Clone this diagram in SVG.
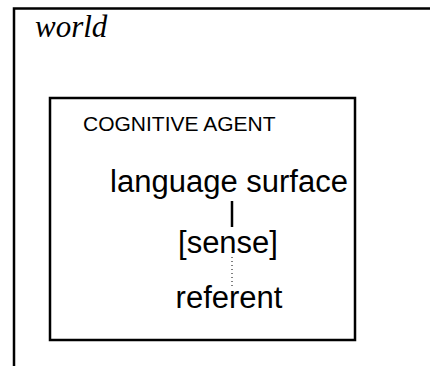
<svg xmlns="http://www.w3.org/2000/svg" width="430" height="366" viewBox="0 0 430 366">
<style>
.box{fill:none;stroke:#000;stroke-width:2.5}
.sans{font-family:"Liberation Sans",Arial,sans-serif;fill:#000}
.t{font-size:31px;text-anchor:middle}
</style>
<rect width="430" height="366" fill="#fff"/>
<g id="world">
<path class="box" d="M14,370 V8.5 H434"/>
<text x="35" y="37" font-family="Liberation Serif, serif" font-style="italic" font-size="31">world</text>
</g>
<g id="agent">
<rect class="box" x="50" y="98" width="305" height="242"/>
<text class="sans" x="83" y="131" font-size="21">COGNITIVE AGENT</text>
</g>
<g id="surface"><text class="sans t" x="229" y="192">language surface</text></g>
<g id="sense"><text class="sans t" x="228" y="253">[sense]</text></g>
<g id="referent"><text class="sans t" x="229" y="308">referent</text></g>
<g id="connectors">
<line x1="232" y1="201" x2="232" y2="227" stroke="#000" stroke-width="2.5"/>
<line x1="232" y1="257" x2="232" y2="287" stroke="#000" stroke-width="1" stroke-dasharray="1,3"/>
</g>
</svg>
